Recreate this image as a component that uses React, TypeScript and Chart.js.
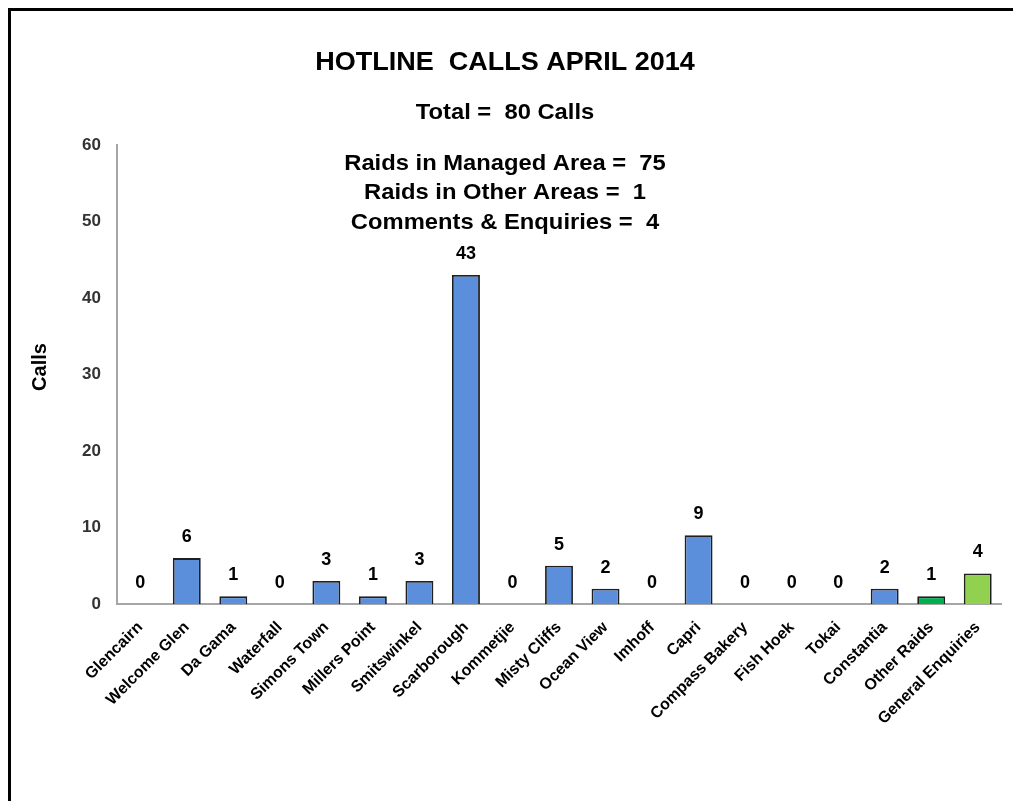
import React, { useEffect, useRef } from "react";
import { Chart, registerables } from "chart.js";

Chart.register(...registerables);

const categories = [
  "Glencairn",
  "Welcome Glen",
  "Da Gama",
  "Waterfall",
  "Simons Town",
  "Millers Point",
  "Smitswinkel",
  "Scarborough",
  "Kommetjie",
  "Misty Cliffs",
  "Ocean View",
  "Imhoff",
  "Capri",
  "Compass Bakery",
  "Fish Hoek",
  "Tokai",
  "Constantia",
  "Other Raids",
  "General Enquiries",
];

const calls = [0, 6, 1, 0, 3, 1, 3, 43, 0, 5, 2, 0, 9, 0, 0, 0, 2, 1, 4];

const yTicks = [0, 10, 20, 30, 40, 50, 60];

const titleLines = [
  "HOTLINE  CALLS APRIL 2014",
  "Total =  80 Calls",
  "Raids in Managed Area =  75",
  "Raids in Other Areas =  1",
  "Comments & Enquiries =  4",
];

const yAxisTitle = "Calls";

const BLUE = "#5b8fdb";
const SPECIAL_COLORS: Record<string, string> = {
  "Other Raids": "#00b050",
  "General Enquiries": "#92d050",
};

const W = 1010;
const H = 790;
const FONT = "'Liberation Sans', Arial, Helvetica, sans-serif";

const textPlugin = {
  id: "headerText",
  afterDraw(chart: any) {
    const ctx = chart.ctx;
    const cx = 494;
    const styles = [
      { size: 25, y: 52 },
      { size: 22, y: 102 },
      { size: 22, y: 152.5 },
      { size: 22, y: 182 },
      { size: 22, y: 211.5 },
    ];
    ctx.save();
    ctx.fillStyle = "#000";
    ctx.textAlign = "center";
    ctx.textBaseline = "middle";
    titleLines.forEach((t, i) => {
      ctx.save();
      ctx.font = `bold ${styles[i].size}px ${FONT}`;
      ctx.translate(cx, styles[i].y);
      ctx.scale(1.08, 1);
      ctx.fillText(t, 0, 0);
      ctx.restore();
    });
    // y axis title
    ctx.save();
    ctx.font = `bold 20px ${FONT}`;
    ctx.translate(29, 356);
    ctx.rotate(-Math.PI / 2);
    ctx.fillText(yAxisTitle, 0, 0);
    ctx.restore();
    ctx.restore();
  },
};

const valueLabelPlugin = {
  id: "valueLabels",
  afterDatasetsDraw(chart: any) {
    const ctx = chart.ctx;
    const meta = chart.getDatasetMeta(0);
    const data = chart.data.datasets[0].data;
    ctx.save();
    ctx.fillStyle = "#000";
    ctx.font = `bold 18px ${FONT}`;
    ctx.textAlign = "center";
    ctx.textBaseline = "middle";
    meta.data.forEach((el: any, i: number) => {
      ctx.fillText(String(data[i]), el.x, el.y - 21);
    });
    ctx.restore();
  },
};

export default function App() {
  const ref = useRef<HTMLCanvasElement | null>(null);

  useEffect(() => {
    if (!ref.current) return;
    const chart = new Chart(ref.current, {
      type: "bar",
      data: {
        labels: categories,
        datasets: [
          {
            data: calls,
            backgroundColor: categories.map((c) => SPECIAL_COLORS[c] || BLUE),
            borderColor: "#1f1f1f",
            borderWidth: 1.8,
            borderSkipped: "bottom",
            barPercentage: 0.6,
            categoryPercentage: 1,
          },
        ],
      },
      options: {
        responsive: false,
        animation: false,
        layout: { padding: { top: 134, right: W - 990, left: 0, bottom: 0 } },
        plugins: {
          legend: { display: false },
          tooltip: { enabled: false },
          title: { display: false },
        },
        scales: {
          x: {
            grid: { display: false, drawTicks: false },
            border: { display: true, color: "#a6a6a6", width: 2 },
            ticks: {
              autoSkip: false,
              maxRotation: 45,
              minRotation: 45,
              padding: 14,
              color: "#000",
              font: { family: FONT, size: 16, weight: "bold" },
            },
            afterFit: (scale: any) => {
              scale.height = H - 593;
            },
          },
          y: {
            min: 0,
            max: 60,
            grid: { display: false, drawTicks: false },
            border: { display: true, color: "#a6a6a6", width: 2 },
            afterBuildTicks: (scale: any) => {
              scale.ticks = yTicks.map((v) => ({ value: v }));
            },
            ticks: {
              padding: 16,
              color: "#333",
              font: { family: FONT, size: 17, weight: "bold" },
            },
            title: { display: false },
            afterFit: (scale: any) => {
              scale.width = 106;
            },
          },
        },
      },
      plugins: [textPlugin, valueLabelPlugin],
    } as any);
    return () => chart.destroy();
  }, []);

  return (
    <div
      style={{
        borderTop: "3px solid #000",
        borderLeft: "3px solid #000",
        width: W,
        height: H,
        background: "#fff",
      }}
    >
      <canvas ref={ref} width={W} height={H} style={{ display: "block" }} />
    </div>
  );
}
